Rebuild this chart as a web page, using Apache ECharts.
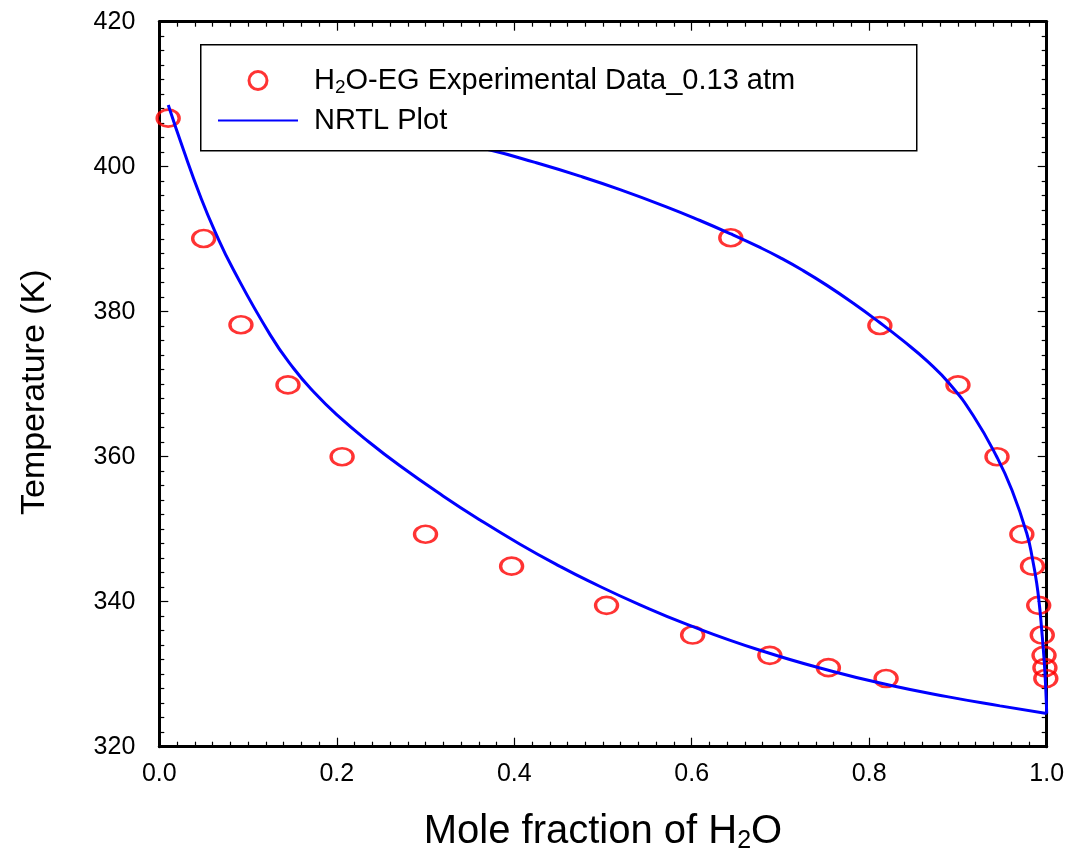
<!DOCTYPE html>
<html><head><meta charset="utf-8">
<script src="https://cdn.jsdelivr.net/npm/echarts@6/dist/echarts.min.js"></script>
<style>html,body{margin:0;padding:0;background:#fff}#c{width:1070px;height:859px}</style>
</head><body><div id="c"></div>
<script>
// Experimental data (liquid branch then vapour branch)
const expX = [0.010, 0.050, 0.092, 0.145, 0.206, 0.300, 0.397, 0.504, 0.601, 0.688, 0.754, 0.819,
              0.644, 0.812, 0.900, 0.944, 0.972, 0.984, 0.991, 0.995, 0.997, 0.998, 0.999];
const expT = [406.7, 390.1, 378.2, 369.9, 360.0, 349.3, 344.9, 339.5, 335.4, 332.6, 330.9, 329.4,
              390.2, 378.1, 369.9, 360.0, 349.3, 344.9, 339.5, 335.4, 332.6, 330.9, 329.4];
// NRTL bubble curve
const bubX = [0.0101, 0.0271, 0.0459, 0.0628, 0.0834, 0.1248, 0.1510, 0.1755, 0.1999, 0.2355, 0.2712, 0.3197,
              0.3614, 0.4065, 0.4515, 0.4854, 0.5417, 0.5947, 0.6769, 0.7592, 0.8234, 0.8877, 0.9474, 1.0];
const bubT = [408.51, 402.36, 396.03, 391.06, 385.82, 376.84, 372.23, 368.74, 365.81, 362.10, 358.74, 354.59,
              351.27, 347.93, 344.87, 342.76, 339.56, 336.87, 333.30, 330.37, 328.48, 326.91, 325.63, 324.57];
// NRTL dew curve
const dewX = [0.1193, 0.2149, 0.2938, 0.3727, 0.4234, 0.4741, 0.5192, 0.5721, 0.6093, 0.6442, 0.6769, 0.6995,
              0.7254, 0.7524, 0.7817, 0.8110, 0.8381, 0.8651, 0.8910, 0.9170, 0.9440, 0.9609, 0.9778, 0.9842,
              0.9887, 0.9919, 0.9941, 0.9971, 0.9990, 1.0];
const dewT = [408.51, 406.44, 404.37, 402.30, 400.59, 398.70, 396.84, 394.43, 392.58, 390.72, 388.86, 387.46,
              385.68, 383.63, 381.20, 378.58, 376.00, 373.21, 370.00, 365.71, 359.92, 355.37, 349.31, 345.75,
              342.58, 339.41, 336.51, 331.96, 327.82, 324.57];
const xTicks = {min: 0, max: 1, interval: 0.2};
const yTicks = {min: 320, max: 420, interval: 20};
const legendNames = ['H2O-EG Experimental Data_0.13 atm', 'NRTL Plot'];

const FONT = '"Liberation Sans", Arial, sans-serif';
const zip = (a, b) => a.map((v, i) => [v, b[i]]);

const lineAxis = {show: true, onZero: false, lineStyle: {color: '#000', width: 3}};
const tick = {show: true, inside: true, length: 9, lineStyle: {color: '#000', width: 1.2}};
const minor = {show: true, splitNumber: 10, length: 5, lineStyle: {color: '#000', width: 1.2}};

const chart = echarts.init(document.getElementById('c'), null, {renderer: 'canvas'});
chart.setOption({
  animation: false,
  backgroundColor: '#fff',
  grid: {left: 159.3, top: 21.7, right: 23.3, bottom: 112.3},
  xAxis: [{
    type: 'value', position: 'bottom', min: xTicks.min, max: xTicks.max, interval: xTicks.interval,
    axisLine: lineAxis, axisTick: tick, minorTick: minor, splitLine: {show: false},
    axisLabel: {margin: 15, fontSize: 25, color: '#000', fontFamily: FONT, formatter: v => v.toFixed(1)},
    name: '{a|Mole fraction of H}{s|2}{a|O}', nameLocation: 'middle', nameGap: 64,
    nameTextStyle: {rich: {
      a: {fontSize: 40, fontFamily: FONT, color: '#000'},
      s: {fontSize: 25, fontFamily: FONT, color: '#000', padding: [18, 0, 0, 0]}
    }}
  }, {
    type: 'value', position: 'top', min: xTicks.min, max: xTicks.max, interval: xTicks.interval,
    axisLine: lineAxis, axisTick: tick, minorTick: minor, splitLine: {show: false},
    axisLabel: {show: false}
  }],
  yAxis: [{
    type: 'value', position: 'left', min: yTicks.min, max: yTicks.max, interval: yTicks.interval,
    axisLine: lineAxis, axisTick: tick, minorTick: minor, splitLine: {show: false},
    axisLabel: {margin: 24, fontSize: 25, color: '#000', fontFamily: FONT},
    name: 'Temperature (K)', nameLocation: 'middle', nameGap: 108,
    nameTextStyle: {fontSize: 34, fontFamily: FONT, color: '#000', padding: [0, 16, 0, 0]}
  }, {
    type: 'value', position: 'right', min: yTicks.min, max: yTicks.max, interval: yTicks.interval,
    axisLine: lineAxis, axisTick: tick, minorTick: minor, splitLine: {show: false},
    axisLabel: {show: false}
  }],
  graphic: [{
    type: 'rect', left: 200, top: 44, z: 10,
    shape: {width: 716, height: 106},
    style: {fill: '#fff', stroke: '#000', lineWidth: 1.5}
  }],
  legend: {
    orient: 'vertical', left: 217, top: 66, z: 20, padding: 0,
    itemWidth: 80, itemHeight: 18, itemGap: 9,
    data: [
      {name: legendNames[0], icon: 'circle', itemStyle: {color: 'rgba(0,0,0,0)', borderColor: '#ff0000', borderWidth: 3}},
      {name: legendNames[1], itemStyle: {color: 'rgba(0,0,0,0)', borderColor: 'rgba(0,0,0,0)', borderWidth: 0, opacity: 0}}
    ],
    formatter: n => n === legendNames[0]
      ? '{a|H}{s|2}{a|O-EG Experimental Data_0.13 atm}'
      : '{a|' + n + '}',
    textStyle: {padding: [0, 0, 0, 11], rich: {
      a: {fontSize: 29, fontFamily: FONT, color: '#000'},
      s: {fontSize: 19, fontFamily: FONT, color: '#000', padding: [14, 0, 0, 0]}
    }}
  },
  series: [{
    name: legendNames[0], type: 'scatter', data: zip(expX, expT),
    symbol: 'circle', symbolSize: [22, 17], clip: false, z: 2,
    itemStyle: {color: 'rgba(0,0,0,0)', borderColor: '#ff0000', borderWidth: 3}
  }, {
    name: legendNames[1], type: 'line', data: zip(bubX, bubT),
    symbol: 'none', showSymbol: false, smooth: 0.5, clip: false, z: 3,
    lineStyle: {color: '#0000ff', width: 3}, itemStyle: {color: '#0000ff'}
  }, {
    name: legendNames[1], type: 'line', data: zip(dewX, dewT),
    symbol: 'none', showSymbol: false, smooth: 0.5, clip: false, z: 3,
    lineStyle: {color: '#0000ff', width: 3}, itemStyle: {color: '#0000ff'}
  }]
});
</script></body></html>
